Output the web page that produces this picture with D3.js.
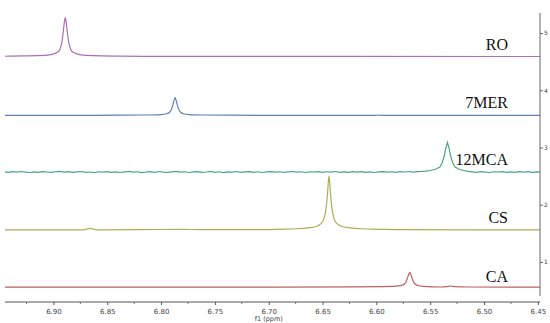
<!DOCTYPE html>
<html>
<head>
<meta charset="utf-8">
<style>
  body { margin: 0; background: #fff; }
  .tick text { font-family: "DejaVu Sans", sans-serif; }
</style>
<title>NMR stacked spectra</title>
</head>
<body>
<script src="https://cdn.jsdelivr.net/npm/d3@7"></script>
<script>
// sample names, bottom to top, with vertical offsets (right axis units) and colours
var names   = ["CA", "CS", "12MCA", "7MER", "RO"];
var offsets = [0.56, 1.56, 2.57, 3.56, 4.59];
var colors  = ["#bb6264", "#abb055", "#45a884", "#6080bb", "#aa6fb6"];

// [ppm, intensity above the trace baseline]
var caData = [
  [6.945, 0], [6.700, 0.001], [6.621, 0.004], [6.595, 0.008], [6.582, 0.016], [6.5768, 0.03],
  [6.5742, 0.05], [6.5723, 0.1], [6.571, 0.17], [6.570, 0.22], [6.569, 0.26],
  [6.568, 0.22], [6.567, 0.17], [6.5657, 0.1], [6.5638, 0.05], [6.5612, 0.028],
  [6.556, 0.012], [6.548, 0.004], [6.540, 0.002], [6.535, 0.008], [6.531, 0.02],
  [6.527, 0.008], [6.515, 0.002], [6.448, 0]
];
var csData = [
  [6.945, 0], [6.872, 0], [6.866, 0.025], [6.860, 0.002], [6.820, 0.004], [6.780, 0.01],
  [6.760, 0.004], [6.720, 0.005], [6.700, 0.006], [6.684, 0.012], [6.674, 0.02],
  [6.664, 0.035], [6.656, 0.06], [6.652, 0.1], [6.649, 0.18], [6.647, 0.34],
  [6.6455, 0.6], [6.6447, 0.82], [6.644, 0.94], [6.6433, 0.82], [6.6425, 0.6],
  [6.641, 0.34], [6.639, 0.18], [6.636, 0.1], [6.632, 0.06], [6.624, 0.035],
  [6.614, 0.02], [6.604, 0.012], [6.580, 0.006], [6.500, 0.002], [6.448, 0]
];
var mcaData = [
  [6.945, 0.003], [6.942, -0.006], [6.938, 0.007], [6.934, -0.002], [6.930, 0.01],
  [6.926, 0.001], [6.922, -0.007], [6.918, 0.005], [6.914, -0.004], [6.910, 0.009],
  [6.906, 0.002], [6.902, -0.006], [6.898, 0.006], [6.894, 0.012], [6.890, -0.002],
  [6.886, 0.007], [6.882, -0.005], [6.878, 0.004], [6.874, 0.01], [6.870, -0.006],
  [6.866, 0.002], [6.862, -0.008], [6.858, 0.006], [6.854, 0.0], [6.850, 0.008],
  [6.846, -0.004], [6.842, 0.005], [6.838, -0.007], [6.834, 0.004], [6.830, 0.011],
  [6.826, -0.002], [6.822, 0.006], [6.818, -0.009], [6.814, 0.002], [6.810, 0.007],
  [6.806, -0.004], [6.802, 0.01], [6.798, 0.0], [6.794, -0.006], [6.790, 0.005],
  [6.786, 0.012], [6.782, -0.002], [6.778, 0.006], [6.774, -0.007], [6.770, 0.004],
  [6.766, 0.008], [6.762, -0.005], [6.758, 0.002], [6.754, 0.011], [6.750, -0.004],
  [6.746, 0.006], [6.742, -0.008], [6.738, 0.005], [6.734, 0.0], [6.730, 0.01],
  [6.726, -0.006], [6.722, 0.004], [6.718, 0.007], [6.714, -0.004], [6.710, 0.006],
  [6.706, -0.007], [6.702, 0.005], [6.698, 0.008], [6.694, -0.002], [6.690, 0.006],
  [6.686, -0.006], [6.682, 0.004], [6.678, 0.01], [6.674, -0.001], [6.670, 0.006],
  [6.666, -0.007], [6.662, 0.005], [6.658, 0.002], [6.654, 0.008], [6.650, -0.004],
  [6.646, 0.006], [6.642, 0.0], [6.638, 0.01], [6.634, -0.005], [6.630, 0.004],
  [6.626, -0.006], [6.622, 0.007], [6.618, 0.001], [6.614, 0.009], [6.610, -0.003],
  [6.606, 0.005], [6.602, -0.007], [6.598, 0.004], [6.594, 0.008], [6.590, -0.002],
  [6.586, 0.006], [6.582, -0.005], [6.578, 0.007], [6.574, 0.002], [6.570, 0.01],
  [6.566, -0.002], [6.562, 0.008], [6.558, 0.012], [6.554, 0.018], [6.550, 0.028],
  [6.545, 0.05], [6.541, 0.09], [6.539, 0.16], [6.537, 0.28], [6.5355, 0.42],
  [6.534, 0.52], [6.5325, 0.42], [6.531, 0.28], [6.529, 0.16], [6.527, 0.09],
  [6.523, 0.05], [6.519, 0.028], [6.515, 0.014], [6.511, 0.004], [6.507, -0.005],
  [6.503, 0.007], [6.499, 0.0], [6.495, -0.007], [6.491, 0.006], [6.487, 0.002],
  [6.483, 0.009], [6.479, -0.004], [6.475, 0.005], [6.471, -0.006], [6.467, 0.007],
  [6.463, 0.0], [6.459, 0.008], [6.455, -0.004], [6.451, 0.005], [6.448, 0.0]
];
var merData = [
  [6.945, 0], [6.860, 0.002], [6.839, 0.004], [6.813, 0.008], [6.800, 0.016], [6.7948, 0.03],
  [6.7922, 0.056], [6.7903, 0.11], [6.789, 0.19], [6.788, 0.26], [6.787, 0.31],
  [6.786, 0.26], [6.785, 0.19], [6.7837, 0.11], [6.7818, 0.056], [6.7792, 0.03],
  [6.774, 0.016], [6.761, 0.008], [6.735, 0.004], [6.700, 0.001], [6.602, 0],
  [6.598, 0.006], [6.594, 0], [6.448, 0]
];
var roData = [
  [6.945, 0.004], [6.941, 0.007], [6.915, 0.014], [6.902, 0.034], [6.8968, 0.068], [6.8942, 0.12],
  [6.8923, 0.24], [6.891, 0.41], [6.890, 0.58], [6.889, 0.68], [6.888, 0.58],
  [6.887, 0.41], [6.8857, 0.24], [6.8838, 0.12], [6.8812, 0.068], [6.876, 0.034],
  [6.863, 0.014], [6.837, 0.007], [6.800, 0.002], [6.448, 0]
];
var spectra = [caData, csData, mcaData, merData, roData];

var xTicks = [6.90, 6.85, 6.80, 6.75, 6.70, 6.65, 6.60, 6.55, 6.50, 6.45];
var xMinor = [6.925, 6.875, 6.825, 6.775, 6.725, 6.675, 6.625, 6.575, 6.525, 6.475];
var yTicks = [1, 2, 3, 4, 5];

var W = 550, H = 323;

var x = d3.scaleLinear().domain([6.945, 6.448]).range([5, 540]);
var y = d3.scaleLinear().domain([0.30, 5.49]).range([302, 5]);

var svg = d3.select("body").append("svg")
    .attr("width", W)
    .attr("height", H);

var smooth = d3.line()
    .x(d => x(d[0]))
    .y(d => y(d[1]))
    .curve(d3.curveMonotoneX);
// the noisy 12MCA trace is drawn with straight segments
var jagged = d3.line()
    .x(d => x(d[0]))
    .y(d => y(d[1]));

spectra.forEach(function(s, i) {
  var pts = s.map(d => [d[0], d[1] + offsets[i]]);
  svg.append("path")
    .datum(pts)
    .attr("d", names[i] == "12MCA" ? jagged : smooth)
    .attr("fill", "none")
    .attr("stroke", colors[i])
    .attr("stroke-width", 1.2);

  svg.append("text")
    .attr("x", 508)
    .attr("y", y(offsets[i]) - (i == 0 ? 5 : 7))
    .attr("text-anchor", "end")
    .attr("font-family", "Liberation Serif, serif")
    .attr("font-size", 16)
    .attr("fill", "#111")
    .text(names[i]);
});

// bottom ppm axis
var xAxis = d3.axisBottom(x)
    .tickValues(xTicks)
    .tickSize(3)
    .tickFormat(d3.format(".2f"));
var gx = svg.append("g")
    .attr("transform", "translate(0,302)")
    .call(xAxis);
gx.select(".domain").attr("stroke", "#555").attr("d", "M5,0H540");
gx.selectAll(".tick line").attr("stroke", "#555");
gx.selectAll(".tick text").attr("font-size", 7).attr("fill", "#444").attr("dy", "0.9em");

svg.append("g")
  .selectAll("line")
  .data(xMinor)
  .enter().append("line")
    .attr("x1", d => x(d)).attr("x2", d => x(d))
    .attr("y1", 302).attr("y2", 304)
    .attr("stroke", "#777");

svg.append("text")
  .attr("x", x(6.70))
  .attr("y", 321)
  .attr("text-anchor", "middle")
  .attr("font-family", "DejaVu Sans, sans-serif")
  .attr("font-size", 6.5)
  .attr("fill", "#444")
  .text("f1 (ppm)");

// right intensity axis
var yAxis = d3.axisRight(y)
    .tickValues(yTicks)
    .tickSize(3)
    .tickFormat(d3.format("d"));
var gy = svg.append("g")
    .attr("transform", "translate(540,0)")
    .call(yAxis);
gy.select(".domain").attr("stroke", "#666").attr("d", "M0,13V296");
gy.selectAll(".tick line").attr("stroke", "#666");
gy.selectAll(".tick text").attr("font-size", 6).attr("fill", "#444").attr("x", 4);
</script>
</body>
</html>
